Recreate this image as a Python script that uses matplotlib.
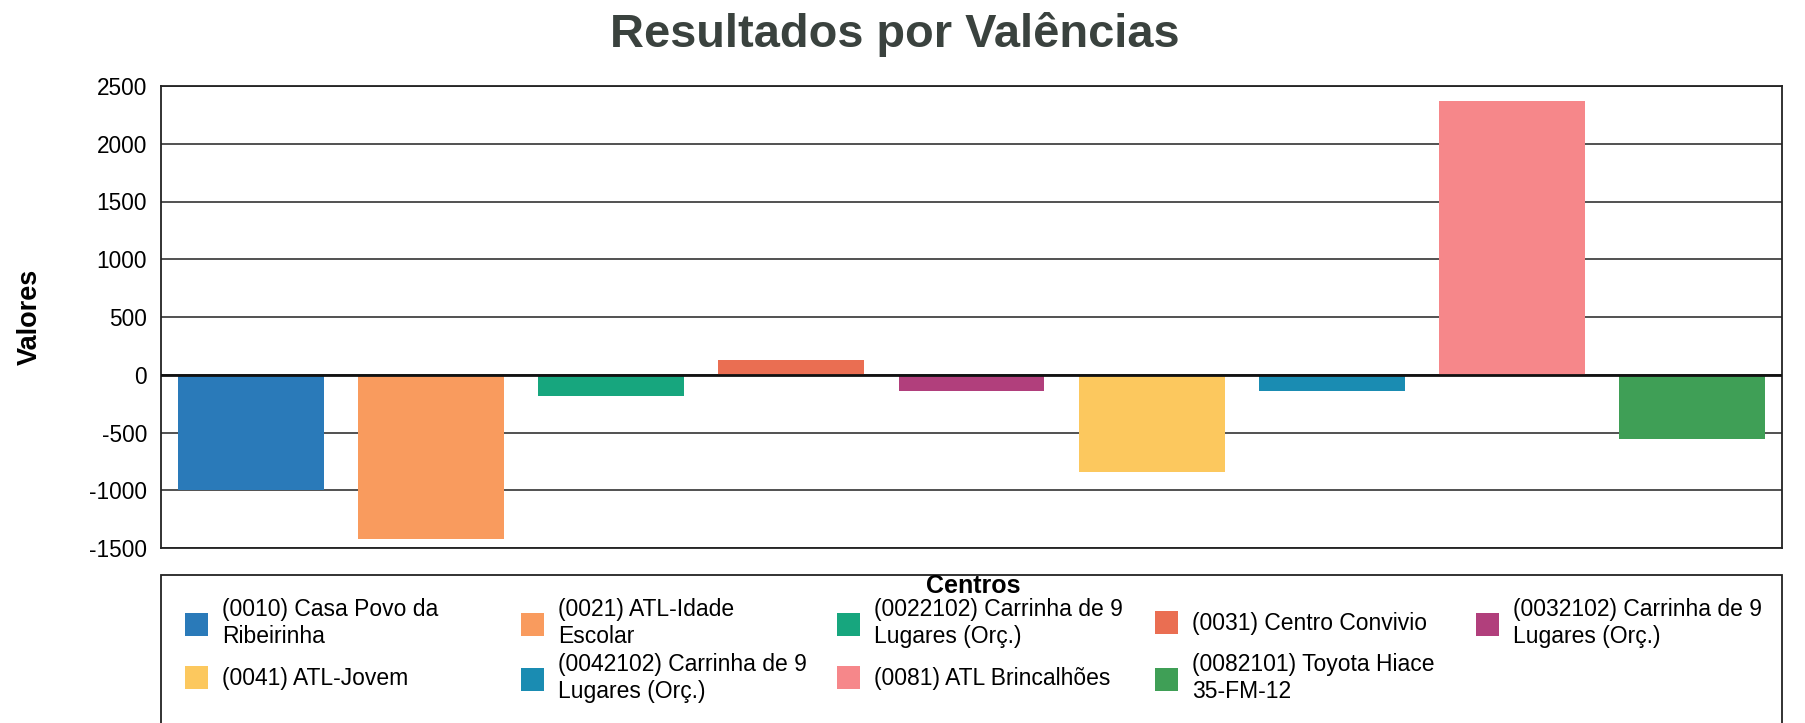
import matplotlib.pyplot as plt
from matplotlib.patches import Patch, Rectangle

centros = ["(0010) Casa Povo da\nRibeirinha",
           "(0021) ATL-Idade\nEscolar",
           "(0022102) Carrinha de 9\nLugares (Orç.)",
           "(0031) Centro Convivio",
           "(0032102) Carrinha de 9\nLugares (Orç.)",
           "(0041) ATL-Jovem",
           "(0042102) Carrinha de 9\nLugares (Orç.)",
           "(0081) ATL Brincalhões",
           "(0082101) Toyota Hiace\n35-FM-12"]
valores = [-1000, -1420, -185, 125, -145, -845, -145, 2370, -555]
cores = ["#2a7ab9", "#f99b5e", "#17a67e", "#ea6e52", "#b13f7c",
         "#fcc85e", "#1a8cb2", "#f6878a", "#3f9f56"]
yticks = [-1500, -1000, -500, 0, 500, 1000, 1500, 2000, 2500]

plt.rcParams['font.family'] = ['Liberation Sans', 'DejaVu Sans']

W, H = 1805, 723
fig = plt.figure(figsize=(W / 100, H / 100), dpi=100)
ax = fig.add_axes([161 / W, 1 - 548 / H, 1621 / W, (548 - 86) / H])

x = range(len(valores))
ax.bar(x, valores, width=0.81, color=cores, zorder=3)

ax.set_xlim(-0.5, len(valores) - 0.5)
ax.set_ylim(-1500, 2500)
ax.set_yticks(yticks)
ax.set_yticklabels([str(t) for t in yticks], fontsize=16.3)
ax.set_xticks([])
ax.tick_params(axis='y', length=0, pad=10)
ax.grid(axis='y', color='#222222', linewidth=1.1, zorder=0)
ax.axhline(0, color='#111111', linewidth=2, zorder=4)
for s in ax.spines.values():
    s.set_color('#222222')
    s.set_linewidth(1.3)

ax.set_ylabel("Valores", fontsize=19.5, fontweight='bold')
ax.yaxis.set_label_coords((43 - 161) / 1621, 0.5)
fig.text(895 / W, 1 - 47 / H, "Resultados por Valências", ha='center', va='baseline',
         fontsize=33.8, fontweight='bold', color='#3a423e')

# legend box (runs off the bottom of the page) with title
fig.add_artist(Rectangle((161 / W, -0.05), 1621 / W, 0.05 + 1 - 575 / H,
                         transform=fig.transFigure, fill=False,
                         edgecolor='#222222', linewidth=1.3))
fig.text(973 / W, 1 - 586 / H, "Centros", ha='center', va='center',
         fontsize=18, fontweight='bold')

# legend entries, row by row: 5 columns
col_x = [185, 521, 837, 1155, 1476]
row_y = [623, 678]
for i, (lab, c) in enumerate(zip(centros, cores)):
    r, k = divmod(i, 5)
    fig.legend([Patch(facecolor=c, edgecolor='none')], [lab],
               loc='center left',
               bbox_to_anchor=(col_x[k] / W, 1 - row_y[r] / H),
               frameon=False, fontsize=16.5,
               handlelength=1.0, handleheight=1.15, handletextpad=0.62,
               borderpad=0, borderaxespad=0)

fig.savefig("out.png", dpi=100)
